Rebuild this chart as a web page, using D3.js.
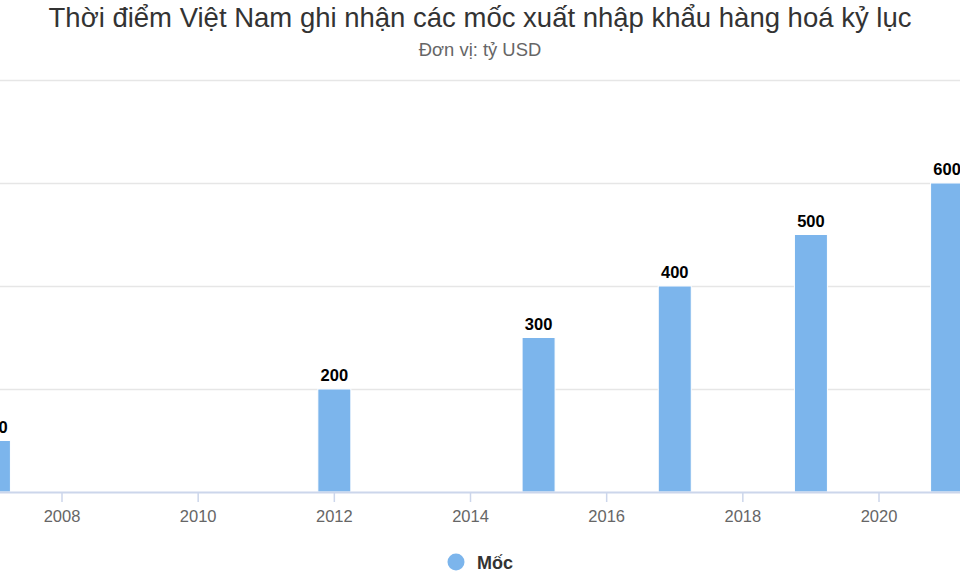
<!DOCTYPE html>
<html>
<head>
<meta charset="utf-8">
<script src="https://cdn.jsdelivr.net/npm/d3@7"></script>
<style>
  body { margin: 0; background: #fff; }
  svg { display: block; font-family: "Liberation Sans", Arial, sans-serif; }
</style>
</head>
<body>
<div id="chart"></div>
<script>
const svgWidth = 960
const svgHeight = 576

// data
const years = [2007, 2012, 2015, 2017, 2019, 2021]
const values = [100, 200, 300, 400, 500, 600]
const xTicks = [2008, 2010, 2012, 2014, 2016, 2018, 2020]
const yTicks = [0, 200, 400, 600, 800]
const seriesName = "Mốc"

let svg = d3.select("#chart")
  .append("svg")
  .attr("width", svgWidth)
  .attr("height", svgHeight)

// plot area runs past the viewport on both sides (cropped chart)
let x = d3.scaleLinear().domain([2008, 2020]).range([62, 879])
let y = d3.scaleLinear().domain([0, 800]).range([492, 80])
let barW = 33

// title
svg.append("text")
  .attr("x", 480).attr("y", 27)
  .attr("text-anchor", "middle")
  .attr("font-size", 27.5)
  .attr("fill", "#333")
  .text("Thời điểm Việt Nam ghi nhận các mốc xuất nhập khẩu hàng hoá kỷ lục")

svg.append("text")
  .attr("x", 480).attr("y", 56)
  .attr("text-anchor", "middle")
  .attr("font-size", 18.4)
  .attr("fill", "#666")
  .text("Đơn vị: tỷ USD")

// gridlines
svg.append("g")
  .selectAll("line")
  .data(yTicks.filter(d => d > 0))
  .enter()
  .append("line")
  .attr("x1", 0).attr("x2", svgWidth)
  .attr("y1", d => Math.round(y(d)) + 0.5)
  .attr("y2", d => Math.round(y(d)) + 0.5)
  .attr("stroke", "#e6e6e6")
  .attr("stroke-width", 1.5)

// bars
svg.append("g")
  .selectAll("rect")
  .data(years)
  .enter()
  .append("rect")
  .attr("x", d => x(d) - barW / 2)
  .attr("y", (d, i) => y(values[i]))
  .attr("width", barW)
  .attr("height", (d, i) => y(0) - y(values[i]))
  .attr("fill", "#7cb5ec")
  .attr("stroke", "#fff")
  .attr("stroke-width", 1)

// x axis
let xAxis = svg.append("g")
  .attr("transform", `translate(0, ${y(0)})`)

xAxis.append("line")
  .attr("x1", 0).attr("x2", svgWidth)
  .attr("y1", 0.5).attr("y2", 0.5)
  .attr("stroke", "#ccd6eb")
  .attr("stroke-width", 2)

let tick = xAxis.selectAll("g.tick")
  .data(xTicks)
  .enter()
  .append("g")
  .attr("class", "tick")
  .attr("transform", d => `translate(${x(d)}, 0)`)

tick.append("line")
  .attr("y1", 0).attr("y2", 10)
  .attr("stroke", "#ccd6eb")
  .attr("stroke-width", 1.5)

tick.append("text")
  .attr("y", 30)
  .attr("text-anchor", "middle")
  .attr("font-size", 16.5)
  .attr("fill", "#666")
  .text(d => d)

// data labels
svg.append("g")
  .selectAll("text")
  .data(years)
  .enter()
  .append("text")
  .attr("x", d => x(d))
  .attr("y", (d, i) => y(values[i]) - 8)
  .attr("text-anchor", "middle")
  .attr("font-size", 16.5)
  .attr("font-weight", "bold")
  .attr("fill", "#000")
  .attr("stroke", "#fff")
  .attr("stroke-width", 3)
  .attr("paint-order", "stroke")
  .attr("stroke-linejoin", "round")
  .text((d, i) => values[i])

// legend
let legend = svg.append("g").attr("transform", "translate(456, 562)")
legend.append("circle")
  .attr("r", 8.5)
  .attr("fill", "#7cb5ec")
legend.append("text")
  .attr("x", 21).attr("y", 6.5)
  .attr("font-size", 18)
  .attr("font-weight", "bold")
  .attr("fill", "#333")
  .text(seriesName)
</script>
</body>
</html>
